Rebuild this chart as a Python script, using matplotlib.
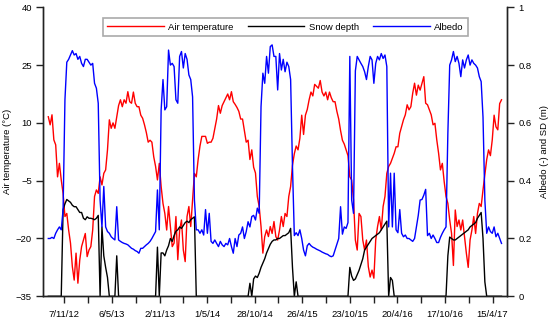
import matplotlib
matplotlib.use("Agg")
import matplotlib.pyplot as plt
import matplotlib.dates as mdates
from matplotlib.ticker import FuncFormatter, FixedLocator
import pandas as pd

plt.rcParams['font.family'] = ['Liberation Sans', 'DejaVu Sans']

# weekly series, first sample 7/9/2012
dates = pd.date_range('2012-09-07', periods=246, freq='7D')

air_temp = [
    11.6, 9.5, 12.1, 5.6, 4.3, -4.0, -0.5, -4.8, -8.3, -14.3,
    -13.5, -17.8, -21.2, -27.3, -30.8, -23.8, -31.6, -25.6, -22.1, -20.4,
    -18.7, -24.7, -23.0, -22.1, -17.8, -9.1, -7.4, -8.3, -4.0, -6.1,
    -3.1, -2.2, 3.0, 10.8, 8.6, 10.0, 8.6, 11.6, 14.5, 16.0,
    14.2, 16.0, 15.1, 18.1, 15.5, 15.1, 18.0, 15.1, 14.2, 14.2,
    12.0, 11.2, 9.5, 7.5, 5.0, 5.5, 5.0, 1.2, -1.3, -4.8,
    -0.5, -6.5, -10.9, -13.5, -17.8, -11.7, -16.9, -22.1, -21.2, -14.3,
    -25.5, -17.8, -15.2, -23.0, -26.0, -14.3, -11.7, -16.9, -10.0, -3.1,
    -4.0, 0.5, 4.0, 6.5, 6.5, 6.5, 4.7, 5.0, 5.0, 6.0,
    8.5, 11.0, 14.5, 12.5, 14.5, 15.5, 16.5, 17.5, 16.0, 18.1,
    15.5, 14.8, 14.0, 13.0, 11.0, 11.0, 8.0, 5.0, 5.5, 0.5,
    3.0, -1.5, -3.0, -9.1, -11.7, -16.9, -23.8, -19.5, -17.8, -19.5,
    -16.9, -18.7, -15.6, -19.5, -20.4, -17.8, -14.3, -16.9, -13.5, -14.3,
    -9.1, -6.5, -1.0, 2.0, 4.0, 3.0, 6.0, 12.0, 7.0, 12.0,
    13.5, 16.0, 18.0, 17.0, 20.0, 19.5, 19.0, 21.0, 18.0, 17.0,
    18.0, 16.0, 18.0, 16.5, 15.5, 15.5, 13.0, 11.0, 8.0, 5.5,
    4.5, 3.0, 1.5, -4.0, -4.8, -10.0, -20.4, -23.0, -13.5, -14.3,
    -20.4, -23.0, -20.4, -27.3, -30.0, -28.2, -30.3, -20.4, -16.9, -14.3,
    -17.8, -11.7, -9.1, -3.1, -1.3, -0.5, 0.8, 2.1, 3.8, 3.8,
    7.3, 9.0, 10.8, 12.1, 14.7, 13.4, 14.2, 17.7, 20.3, 17.2,
    19.8, 18.5, 20.3, 22.0, 15.1, 14.7, 13.4, 12.1, 9.5, 9.9,
    5.6, 2.1, -2.2, -0.5, -5.2, -9.1, -10.9, -15.2, -18.7, -27.0,
    -12.6, -16.9, -15.2, -17.8, -15.2, -19.5, -23.8, -27.5, -20.4, -17.8,
    -14.3, -18.7, -13.5, -10.9, -11.7, -7.4, -3.5, 0.5, 3.0, 1.5,
    5.6, 12.0, 9.0, 8.2, 15.0, 16.0,
]

snow_depth = [
    0, 0, 0, 0, 0, 0, 0, 0, 0.30, 0.32,
    0.335, 0.33, 0.325, 0.315, 0.31, 0.31, 0.30, 0.29, 0.29, 0.27,
    0.265, 0.275, 0.27, 0.27, 0.268, 0.265, 0.27, 0.28, 0, 0.24,
    0.14, 0.10, 0.065, 0, 0, 0, 0, 0.14, 0, 0,
    0, 0, 0, 0, 0, 0, 0, 0, 0, 0,
    0, 0, 0, 0, 0, 0, 0, 0, 0, 0.17,
    0, 0.15, 0.15, 0.14, 0.16, 0.175, 0.20, 0.19, 0.21, 0.225,
    0.23, 0.24, 0.235, 0.245, 0.255, 0.26, 0.255, 0.265, 0.27, 0.275,
    0, 0, 0, 0, 0, 0, 0, 0, 0, 0,
    0, 0, 0, 0, 0, 0, 0, 0, 0, 0,
    0, 0, 0, 0, 0, 0, 0, 0, 0, 0.045,
    0, 0.06, 0.07, 0.065, 0.08, 0.10, 0.115, 0.13, 0.15, 0.165,
    0.18, 0.19, 0.195, 0.195, 0.20, 0.20, 0.205, 0.21, 0.21, 0.215,
    0.22, 0.235, 0.10, 0, 0.05, 0, 0, 0, 0, 0,
    0, 0, 0, 0, 0, 0, 0, 0, 0, 0,
    0, 0, 0, 0, 0, 0, 0, 0, 0, 0,
    0, 0, 0, 0.10, 0.07, 0.055, 0.06, 0.075, 0.09, 0.11,
    0.13, 0.16, 0.17, 0.18, 0.19, 0.20, 0.205, 0.21, 0.215, 0.22,
    0.23, 0.24, 0.25, 0.26, 0, 0.065, 0.055, 0, 0, 0,
    0, 0, 0, 0, 0, 0, 0, 0, 0, 0,
    0, 0, 0, 0, 0, 0, 0, 0, 0, 0,
    0, 0, 0, 0, 0, 0, 0.14, 0.205, 0.20, 0.195,
    0.195, 0.20, 0.205, 0.21, 0.215, 0.22, 0.225, 0.23, 0.24, 0.245,
    0.25, 0.255, 0.27, 0.28, 0.29, 0.20, 0.05, 0, 0, 0,
    0, 0, 0, 0, 0, 0,
]

albedo = [
    0.20, 0.20, 0.204, 0.20, 0.218, 0.23, 0.24, 0.23, 0.30, 0.68,
    0.81, 0.82, 0.835, 0.85, 0.835, 0.84, 0.82, 0.83, 0.806, 0.795,
    0.82, 0.82, 0.81, 0.80, 0.806, 0.737, 0.72, 0.668, 0.333, 0.24,
    0.38, 0.24, 0.224, 0.218, 0.206, 0.20, 0.195, 0.31, 0.195, 0.19,
    0.186, 0.183, 0.181, 0.178, 0.172, 0.166, 0.163, 0.158, 0.155, 0.149,
    0.166, 0.166, 0.172, 0.178, 0.183, 0.19, 0.20, 0.212, 0.224, 0.368,
    0.23, 0.645, 0.75, 0.645, 0.656, 0.852, 0.80, 0.806, 0.795, 0.68,
    0.668, 0.83, 0.847, 0.79, 0.84, 0.82, 0.766, 0.75, 0.69, 0.333,
    0.23, 0.23, 0.218, 0.23, 0.212, 0.30, 0.218, 0.287, 0.19, 0.183,
    0.195, 0.183, 0.172, 0.19, 0.178, 0.172, 0.183, 0.178, 0.20, 0.172,
    0.149, 0.20, 0.172, 0.212, 0.218, 0.24, 0.20, 0.224, 0.258, 0.24,
    0.276, 0.28, 0.264, 0.305, 0.287, 0.656, 0.772, 0.737, 0.83, 0.772,
    0.864, 0.87, 0.83, 0.83, 0.714, 0.84, 0.783, 0.82, 0.777, 0.81,
    0.795, 0.75, 0.45, 0.21, 0.22, 0.21, 0.23, 0.20, 0.16, 0.14,
    0.175, 0.183, 0.175, 0.17, 0.167, 0.163, 0.16, 0.157, 0.153, 0.15,
    0.147, 0.145, 0.14, 0.137, 0.14, 0.16, 0.18, 0.20, 0.31, 0.215,
    0.24, 0.235, 0.255, 0.83, 0.333, 0.287, 0.78, 0.83, 0.818, 0.806,
    0.795, 0.777, 0.75, 0.795, 0.83, 0.818, 0.737, 0.806, 0.83, 0.818,
    0.84, 0.823, 0.835, 0.795, 0.24, 0.426, 0.24, 0.426, 0.23, 0.22,
    0.30, 0.218, 0.206, 0.212, 0.20, 0.20, 0.195, 0.19, 0.20, 0.24,
    0.28, 0.333, 0.335, 0.35, 0.37, 0.21, 0.218, 0.20, 0.212, 0.20,
    0.186, 0.186, 0.204, 0.218, 0.23, 0.24, 0.564, 0.80, 0.818, 0.847,
    0.812, 0.83, 0.806, 0.76, 0.818, 0.79, 0.818, 0.835, 0.80, 0.818,
    0.806, 0.80, 0.79, 0.76, 0.743, 0.62, 0.333, 0.218, 0.24, 0.224,
    0.218, 0.24, 0.206, 0.218, 0.20, 0.183,
]

tick_dates = pd.date_range('2012-11-07', periods=10, freq='180D')
minor_dates = pd.date_range('2013-02-05', periods=9, freq='180D')

fig = plt.figure(figsize=(5.5, 3.23), dpi=100)
ax = fig.add_axes([0.0782, 0.0827, 0.8442, 0.8947])
ax2 = ax.twinx()

l1, = ax.plot(dates, air_temp, color='#ff0000', lw=1.0)
l2, = ax2.plot(dates, snow_depth, color='black', lw=1.0)
l3, = ax2.plot(dates, albedo, color='#0000ff', lw=1.0)

ax.set_ylim(-35, 40)
ax.set_yticks([-35, -20, -5, 10, 25, 40])
ax2.set_ylim(0, 1)
ax2.set_yticks([0, 0.2, 0.4, 0.6, 0.8, 1.0])
ax2.yaxis.set_major_formatter(FuncFormatter(lambda v, p: '%g' % v))
ax.set_xlim(pd.Timestamp('2012-08-18'), pd.Timestamp('2017-06-10'))

ax.xaxis.set_major_locator(FixedLocator(mdates.date2num(tick_dates)))
ax.xaxis.set_minor_locator(FixedLocator(mdates.date2num(minor_dates)))
ax.xaxis.set_major_formatter(FuncFormatter(
    lambda v, p: '%d/%d/%02d' % (mdates.num2date(v).day, mdates.num2date(v).month, mdates.num2date(v).year % 100)))

for a in (ax, ax2):
    a.spines['top'].set_visible(False)
    for s in a.spines.values():
        s.set_linewidth(1.0)
        s.set_color('#222222')
    a.tick_params(axis='both', which='both', direction='out', length=5, width=1.0,
                  labelsize=6.8, color='#222222')
ax.tick_params(axis='x', pad=5)
ax.tick_params(axis='y', pad=3)
ax2.tick_params(axis='y', pad=3)

ax.set_ylabel('Air temperature (°C)', fontsize=6.8, labelpad=3)
ax2.set_ylabel('Albedo (-) and SD (m)', fontsize=6.8, labelpad=6)

leg = ax2.legend([l1, l2, l3], ['Air temperature', 'Snow depth', 'Albedo'],
                 ncol=3, loc='upper center', bbox_to_anchor=(0.522, 0.978),
                 fontsize=6.8, handlelength=6.0, handletextpad=0.45,
                 columnspacing=1.5, borderpad=0.45, fancybox=False,
                 framealpha=1, edgecolor='#aaaaaa')
leg.get_frame().set_linewidth(1.2)

fig.savefig('out.png', dpi=100)
